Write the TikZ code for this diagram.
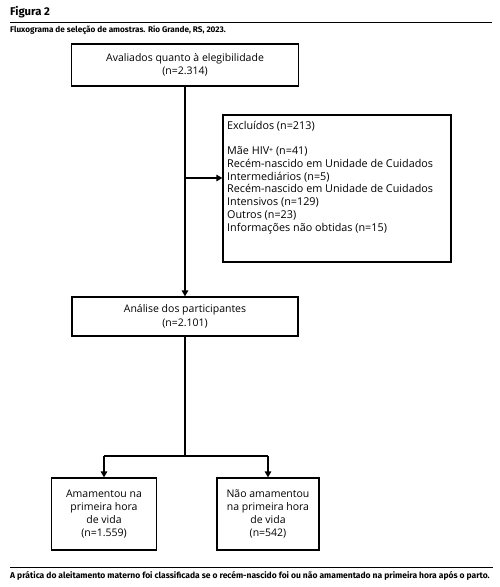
\documentclass[tikz,border=0pt]{standalone}
\usepackage{fontspec}
\setmainfont{Open Sans}
\newfontfamily\capfont{Fira Sans}
\usetikzlibrary{arrows.meta}
\begin{document}
\begin{tikzpicture}[x=1pt,y=-1pt,
  box/.style={draw=black,line width=1.2pt,inner sep=0pt,font=\fontsize{10.5}{13.5}\selectfont,align=center},
  arr/.style={line width=1.2pt,-{Triangle[length=6pt,width=6.5pt]}},
  ln/.style={line width=1.2pt},
  rule/.style={line width=1pt}]
\useasboundingbox (0,0) rectangle (500,587);
% header
\node[anchor=west,inner sep=0pt,font=\capfont\bfseries\fontsize{11.3}{13}\selectfont] (title) at (10,12) {Figura 2};
\coordinate (r1a) at (10,22);
\coordinate (r1b) at (492,22);
\draw[rule] (r1a) -- (r1b);
\node[anchor=west,inner sep=0pt,font=\capfont\bfseries\fontsize{8.2}{10}\selectfont] (sub) at (10,30) {Fluxograma de seleção de amostras. Rio Grande, RS, 2023.};
% boxes
\node[box,minimum width=227pt,minimum height=42pt] (b1) at (185,65) {Avaliados quanto à elegibilidade\\(n=2.314)};
\node[box,minimum width=228pt,minimum height=147pt] (b2) at (337,188.5) {};
\node[anchor=north west,inner sep=0pt,align=left,font=\fontsize{10.8}{12.7}\selectfont] (b2t) at (227,121) {Excluídos (n=213)\\[12.7pt]Mãe HIV\raisebox{2.5pt}{\scriptsize +} (n=41)\\Recém-nascido em Unidade de Cuidados\\Intermediários (n=5)\\Recém-nascido em Unidade de Cuidados\\Intensivos (n=129)\\Outros (n=23)\\Informações não obtidas (n=15)};
\node[box,minimum width=226pt,minimum height=39pt] (b3) at (185,316.5) {Análise dos participantes\\(n=2.101)};
\node[box,minimum width=105pt,minimum height=72pt,font=\fontsize{10.5}{13}\selectfont] (b4) at (104,514) {Amamentou na\\primeira hora\\de vida\\(n=1.559)};
\node[box,minimum width=102pt,minimum height=72pt,font=\fontsize{10.5}{13}\selectfont] (b5) at (268,514) {Não amamentou\\na primeira hora\\de vida\\(n=542)};
% connectors
\coordinate (j) at (185,178);
\coordinate (s) at (185,456);
\draw[arr] (b1.south) -- (b3.north);
\draw[arr] (j) -- (j -| b2.west);
\draw[ln] (b3.south) -- (s);
\draw[ln] (b4.north |- s) -- (b5.north |- s);
\draw[arr] (b4.north |- s) -- (b4.north);
\draw[arr] (b5.north |- s) -- (b5.north);
% footer
\coordinate (r2a) at (10,567);
\coordinate (r2b) at (493,567);
\draw[rule] (r2a) -- (r2b);
\node[anchor=west,inner sep=0pt,font=\capfont\bfseries\fontsize{8.5}{10}\selectfont] (foot) at (10,576) {A prática do aleitamento materno foi classificada se o recém-nascido foi ou não amamentado na primeira hora após o parto.};
\end{tikzpicture}
\end{document}
